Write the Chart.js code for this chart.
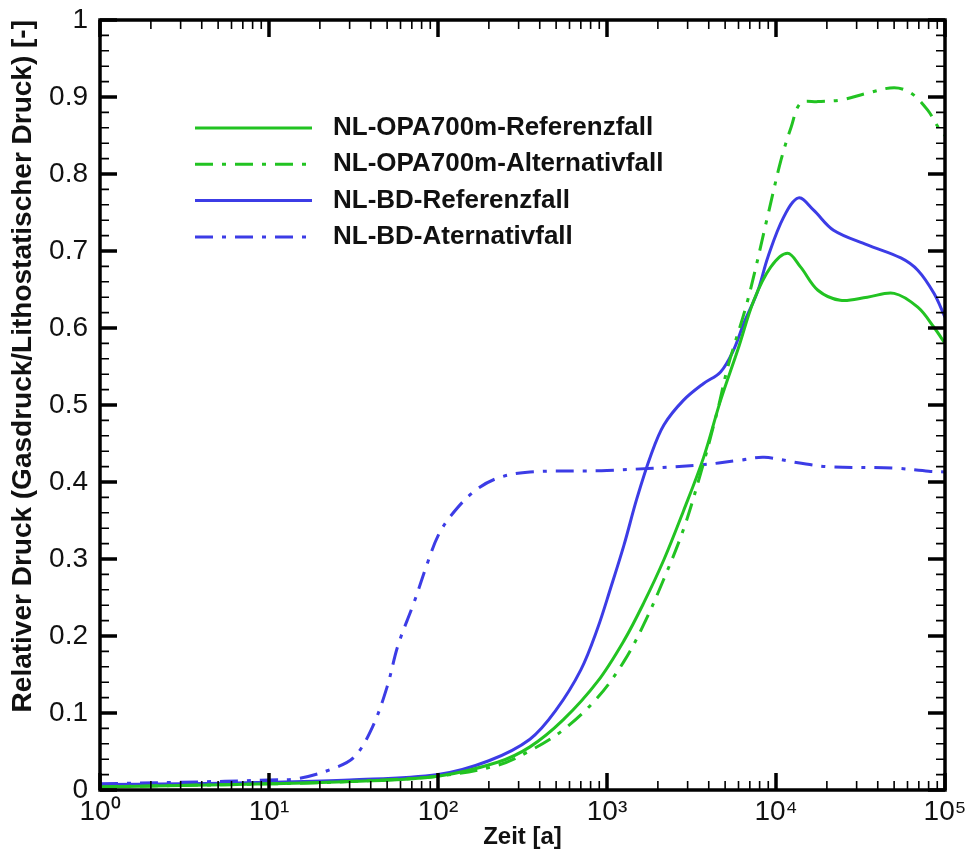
<!DOCTYPE html>
<html>
<head>
<meta charset="utf-8">
<script src="https://cdn.jsdelivr.net/npm/chart.js@4.4.1/dist/chart.umd.min.js"></script>
<style>
  html, body { margin: 0; padding: 0; background: #fff; }
  #wrap { width: 966px; height: 854px; }
</style>
</head>
<body>
<div id="wrap"><canvas id="c" width="966" height="854"></canvas></div>
<script>
// ---- Data ----
const seriesLabels = [
  'NL-OPA700m-Referenzfall',
  'NL-OPA700m-Alternativfall',
  'NL-BD-Referenzfall',
  'NL-BD-Aternativfall'
];

const opaRefT = [1, 3, 10, 30, 100, 225, 350, 550, 880, 1260, 1650, 2170, 2830, 3730, 4700, 5930, 7400, 9300, 11700, 14000, 17700, 24000, 34700, 50000, 69000, 86000, 100000];
const opaRefP = [0.004, 0.006, 0.008, 0.011, 0.018, 0.036, 0.056, 0.091, 0.141, 0.194, 0.243, 0.299, 0.362, 0.432, 0.506, 0.571, 0.636, 0.679, 0.697, 0.679, 0.649, 0.636, 0.640, 0.645, 0.627, 0.601, 0.580];

const opaAltT = [1, 3, 10, 30, 100, 225, 350, 550, 880, 1260, 1650, 2170, 2830, 3590, 4520, 5180, 6800, 8900, 10700, 12300, 14000, 17700, 24000, 34700, 50000, 63000, 79000, 91000, 100000];
const opaAltP = [0.004, 0.006, 0.008, 0.011, 0.018, 0.032, 0.051, 0.078, 0.120, 0.167, 0.215, 0.274, 0.338, 0.412, 0.494, 0.549, 0.636, 0.744, 0.818, 0.861, 0.892, 0.894, 0.896, 0.905, 0.912, 0.905, 0.883, 0.861, 0.850];

const bdRefT = [1, 3, 10, 30, 100, 200, 350, 500, 700, 880, 1050, 1260, 1500, 1820, 2170, 2830, 3730, 4700, 5600, 6450, 7800, 8950, 11100, 13600, 16700, 21900, 34700, 54800, 69000, 86000, 100000];
const bdRefP = [0.007, 0.008, 0.010, 0.013, 0.020, 0.038, 0.066, 0.104, 0.156, 0.210, 0.262, 0.318, 0.378, 0.435, 0.474, 0.506, 0.528, 0.543, 0.571, 0.606, 0.648, 0.692, 0.744, 0.769, 0.753, 0.727, 0.708, 0.691, 0.675, 0.645, 0.614];

const bdAltT = [1, 3, 10, 15, 24, 32, 41, 50, 58, 72, 88, 100, 118, 162, 225, 350, 1000, 3500, 6000, 8500, 13500, 20000, 50000, 80000, 100000];
const bdAltP = [0.008, 0.010, 0.013, 0.015, 0.028, 0.043, 0.082, 0.134, 0.188, 0.243, 0.299, 0.330, 0.355, 0.387, 0.405, 0.413, 0.415, 0.422, 0.428, 0.432, 0.425, 0.420, 0.418, 0.414, 0.413];

const xTickValues = [1, 10, 100, 1000, 10000, 100000];
const xTickLabels = ['10⁰', '10¹', '10²', '10³', '10⁴', '10⁵'];
const yTickLabels = ['0', '0.1', '0.2', '0.3', '0.4', '0.5', '0.6', '0.7', '0.8', '0.9', '1'];

const xTitle = 'Zeit [a]';
const yTitle = 'Relativer Druck (Gasdruck/Lithostatischer Druck) [-]';

// ---- Styles ----
const GREEN = '#22c322';
const BLUE = '#3c3ce6';
const DASHDOT = [18, 9, 4, 9];
const FONT = "'Liberation Sans', Arial, Helvetica, sans-serif";

function pts(t, p) { return t.map((v, i) => ({ x: v, y: p[i] })); }

const datasets = [
  { label: seriesLabels[0], data: pts(opaRefT, opaRefP), borderColor: GREEN, borderDash: [] },
  { label: seriesLabels[1], data: pts(opaAltT, opaAltP), borderColor: GREEN, borderDash: DASHDOT },
  { label: seriesLabels[2], data: pts(bdRefT, bdRefP), borderColor: BLUE, borderDash: [] },
  { label: seriesLabels[3], data: pts(bdAltT, bdAltP), borderColor: BLUE, borderDash: DASHDOT }
].map(d => Object.assign(d, {
  borderWidth: 3,
  pointRadius: 0,
  fill: false,
  tension: 0.35
}));

// Inward ticks, frame and legend
const framePlugin = {
  id: 'frameTicks',
  afterDatasetsDraw(chart) {
    const { ctx, chartArea: a, scales } = chart;
    const xs = scales.x, ys = scales.y;
    ctx.save();
    ctx.strokeStyle = '#000';
    ctx.setLineDash([]);
    ctx.lineCap = 'butt';
    // x ticks (major decades, minor 2..9)
    for (let e = Math.log10(xs.min); e < Math.log10(xs.max) + 0.5; e++) {
      for (let m = 1; m <= 9; m++) {
        const v = m * Math.pow(10, e);
        if (v > xs.max * 1.0001) break;
        const px = xs.getPixelForValue(v);
        const major = m === 1;
        const len = major ? 17 : 9;
        ctx.lineWidth = major ? 3.5 : 1.6;
        ctx.beginPath();
        ctx.moveTo(px, a.bottom); ctx.lineTo(px, a.bottom - len);
        ctx.moveTo(px, a.top); ctx.lineTo(px, a.top + len);
        ctx.stroke();
      }
    }
    // y ticks (major 0.1, minor 0.02)
    for (let i = 0; i <= 50; i++) {
      const v = ys.min + (ys.max - ys.min) * i / 50;
      const py = ys.getPixelForValue(v);
      const major = i % 5 === 0;
      const len = major ? 17 : 9;
      ctx.lineWidth = major ? 3.5 : 1.6;
      ctx.beginPath();
      ctx.moveTo(a.left, py); ctx.lineTo(a.left + len, py);
      ctx.moveTo(a.right, py); ctx.lineTo(a.right - len, py);
      ctx.stroke();
    }
    // frame
    ctx.lineWidth = 3.5;
    ctx.strokeRect(a.left, a.top, a.right - a.left, a.bottom - a.top);

    // legend
    const lx0 = 195, lx1 = 312, tx = 333, y0 = 128, dy = 36.3;
    ctx.font = "bold 26px " + FONT;
    ctx.textBaseline = 'middle';
    ctx.textAlign = 'left';
    chart.data.datasets.forEach((ds, i) => {
      const yy = y0 + i * dy;
      ctx.strokeStyle = ds.borderColor;
      ctx.lineWidth = ds.borderWidth;
      ctx.setLineDash(ds.borderDash || []);
      ctx.beginPath();
      ctx.moveTo(lx0, yy); ctx.lineTo(lx1, yy);
      ctx.stroke();
      ctx.setLineDash([]);
      ctx.fillStyle = '#111';
      ctx.fillText(ds.label, tx, yy);
    });
    ctx.restore();
  }
};

new Chart(document.getElementById('c'), {
  type: 'line',
  data: { datasets },
  options: {
    responsive: false,
    animation: false,
    events: [],
    layout: { padding: { top: 20, right: 21, left: 0, bottom: 0 } },
    plugins: {
      legend: { display: false },
      tooltip: { enabled: false }
    },
    scales: {
      x: {
        type: 'logarithmic',
        min: 1,
        max: 100000,
        grid: { display: false, drawTicks: false },
        border: { display: false },
        afterBuildTicks: s => { s.ticks = xTickValues.map(v => ({ value: v })); },
        afterFit: s => { s.height = 64; s.paddingLeft = 0; s.paddingRight = 0; },
        ticks: {
          autoSkip: false,
          maxRotation: 0,
          padding: 5,
          color: '#111',
          font: { family: FONT, size: 28 },
          callback: (v) => {
            const i = xTickValues.indexOf(v);
            return i >= 0 ? xTickLabels[i] : '';
          }
        },
        title: {
          display: true,
          text: xTitle,
          color: '#111',
          font: { family: FONT, size: 24, weight: 'bold' },
          padding: { top: 0, bottom: 2 }
        }
      },
      y: {
        type: 'linear',
        min: 0,
        max: 1,
        grid: { display: false, drawTicks: false },
        border: { display: false },
        afterFit: s => { s.width = 100; s.paddingTop = 0; s.paddingBottom = 0; },
        ticks: {
          stepSize: 0.1,
          padding: 12,
          color: '#111',
          font: { family: FONT, size: 28 },
          callback: (v) => yTickLabels[Math.round(v * 10)]
        },
        title: {
          display: true,
          text: yTitle,
          align: 'end',
          color: '#111',
          font: { family: FONT, size: 28, weight: 'bold' },
          padding: { top: 6, bottom: 0 }
        }
      }
    }
  },
  plugins: [framePlugin]
});
</script>
</body>
</html>
